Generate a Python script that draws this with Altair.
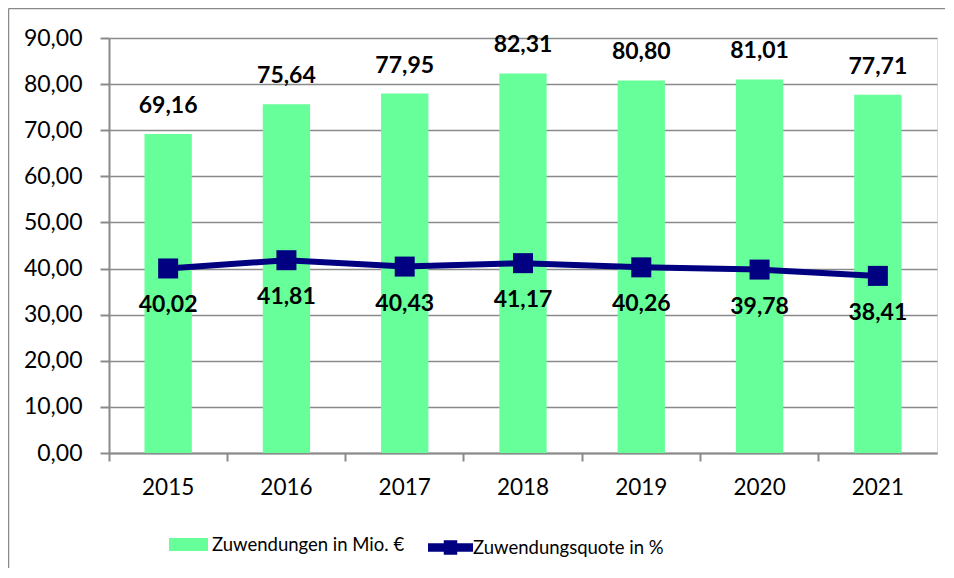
import altair as alt
import pandas as pd

years = ["2015", "2016", "2017", "2018", "2019", "2020", "2021"]
zuwendungen = [69.16, 75.64, 77.95, 82.31, 80.80, 81.01, 77.71]
quote = [40.02, 41.81, 40.43, 41.17, 40.26, 39.78, 38.41]
y_ticks = [0, 10, 20, 30, 40, 50, 60, 70, 80, 90]
bar_series = "Zuwendungen in Mio. €"
line_series = "Zuwendungsquote in %"

BAR_COLOR = "#66FF99"
LINE_COLOR = "#000080"
GRID = "#8a8a8a"
FONT = "Lato"

df = pd.DataFrame({
    "year": years,
    "zuw": zuwendungen,
    "quote": quote,
    "bs": [bar_series] * len(years),
    "ls": [line_series] * len(years),
})

fmt = "replace(format(datum.{f}, '.2f'), '.', ',')"

x = alt.X(
    "year:N", sort=years, title=None,
    scale=alt.Scale(paddingInner=0, paddingOuter=0),
    axis=alt.Axis(
        bandPosition=0, labelAngle=0, grid=False, ticks=True, tickSize=8,
        tickColor=GRID, tickWidth=2, domainColor=GRID, domainWidth=2,
        labelFont=FONT, labelFontSize=22.5, labelColor="black", labelPadding=15,
    ),
)
y_scale = alt.Scale(domain=[0, 90], nice=False)
y_axis = alt.Axis(
    values=y_ticks, title=None, grid=True, gridColor=GRID, gridWidth=1.6,
    domainColor=GRID, domainWidth=2, tickColor=GRID, tickWidth=2, tickSize=9,
    labelFont=FONT, labelFontSize=23, labelColor="black", labelPadding=18,
    labelExpr="replace(format(datum.value, '.2f'), '.', ',')",
)

base = alt.Chart(df)

rect_path = "M-1,-0.33H1V0.33H-1Z"
line_path = "M-1,-0.19H-0.3V-0.32H0.3V-0.19H1V0.19H0.3V0.32H-0.3V0.19H-1Z"

bars = base.mark_bar(width=alt.RelativeBandSize(0.4)).encode(
    x=x,
    y=alt.Y("zuw:Q", scale=y_scale, axis=y_axis),
    fill=alt.Fill(
        "bs:N", scale=alt.Scale(domain=[bar_series], range=[BAR_COLOR]),
        legend=alt.Legend(
            title=None, orient="none", legendX=60, legendY=487, padding=0,
            symbolType=rect_path, symbolSize=1521, symbolStrokeWidth=0,
            labelFont=FONT, labelFontSize=18.5, labelColor="black", labelOffset=4,
            labelLimit=400,
        ),
    ),
)

bar_labels = base.mark_text(
    baseline="bottom", dy=-16, font=FONT, fontSize=23, fontWeight="bold", color="black"
).transform_calculate(lab=fmt.format(f="zuw")).encode(
    x=x, y=alt.Y("zuw:Q", scale=y_scale), text="lab:N"
)

line = base.mark_line(color=LINE_COLOR, strokeWidth=6).encode(
    x=x, y=alt.Y("quote:Q", scale=y_scale)
)

points = base.mark_point(shape="square", filled=True, size=400, opacity=1).encode(
    x=x,
    y=alt.Y("quote:Q", scale=y_scale),
    color=alt.Color(
        "ls:N", scale=alt.Scale(domain=[line_series], range=[LINE_COLOR]),
        legend=alt.Legend(
            title=None, orient="none", legendX=319, legendY=487, padding=0,
            symbolType=line_path, symbolSize=2025, symbolStrokeWidth=0,
            symbolOpacity=1,
            labelFont=FONT, labelFontSize=18.5, labelColor="black", labelOffset=0,
            labelLimit=400,
        ),
    ),
)

line_labels = base.mark_text(
    baseline="middle", dy=37, font=FONT, fontSize=23, fontWeight="bold", color="black"
).transform_calculate(lab=fmt.format(f="quote")).encode(
    x=x, y=alt.Y("quote:Q", scale=y_scale), text="lab:N"
)

frame = pd.DataFrame({"k": [0]})
border_left = alt.Chart(frame).mark_rule(stroke="#8a8a8a", strokeWidth=1.5).encode(
    x=alt.value(-100.5), y=alt.value(-29.5), y2=alt.value(600)
)
border_top = alt.Chart(frame).mark_rule(stroke="#8a8a8a", strokeWidth=1.5).encode(
    x=alt.value(-100.5), x2=alt.value(900), y=alt.value(-29.5)
)

chart = alt.layer(
    border_left, border_top, bars, bar_labels, line, points, line_labels
).resolve_scale(y="shared").properties(
    width=828, height=415,
    autosize=alt.AutoSizeParams(type="none"),
    padding={"left": 101, "top": 30, "right": 8, "bottom": 115},
).configure_view(stroke=None).configure(font=FONT)

chart.save("out.html", embed_options={"renderer": "svg", "actions": False})
